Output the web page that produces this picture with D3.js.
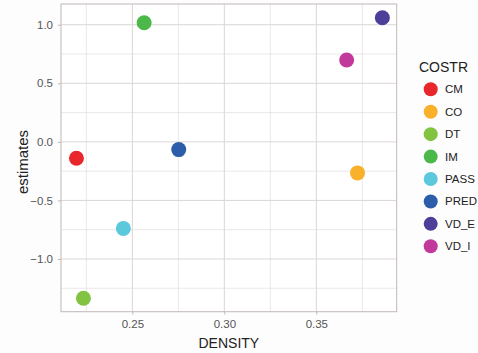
<!DOCTYPE html>
<html><head><meta charset="utf-8">
<script src="https://cdn.jsdelivr.net/npm/d3@7"></script>
<style>body{margin:0;background:#fdfdfd;}svg{display:block;font-family:"Liberation Sans",Arial,sans-serif;}</style>
</head><body><svg id="c" width="478" height="353"></svg>
<script>
const categories = ["CM","CO","DT","IM","PASS","PRED","VD_E","VD_I"];
const density    = [0.2196,0.3724,0.2234,0.2564,0.2451,0.2752,0.3859,0.3665];
const estimates  = [-0.14,-0.265,-1.335,1.017,-0.739,-0.066,1.06,0.699];
const colors     = ["#E8262B","#F9B12C","#82C341","#4CB84A","#5BC8DC","#2B5DAA","#4C3F99","#C1399A"];
const xTicks = [0.25,0.30,0.35];
const yTicks = [-1.0,-0.5,0.0,0.5,1.0];

const svg = d3.select("#c");
const L=61,T=4,R=396.7,B=311.7;
const x = d3.scaleLinear().domain([0.2112,0.3937]).range([L,R]);
const y = d3.scaleLinear().domain([-1.45,1.177]).range([B,T]);
const grid="#dcd6d6";
svg.append("rect").attr("x",L).attr("y",T).attr("width",R-L).attr("height",B-T).attr("fill","#fff");
const g = svg.append("g");
const xMinor=[0.225,0.275,0.325,0.375], yMinor=[-1.25,-0.75,-0.25,0.25,0.75];
g.selectAll(".xm").data(xMinor).join("line").attr("x1",d=>x(d)).attr("x2",d=>x(d)).attr("y1",T).attr("y2",B).attr("stroke",grid).attr("stroke-width",0.6);
g.selectAll(".ym").data(yMinor).join("line").attr("y1",d=>y(d)).attr("y2",d=>y(d)).attr("x1",L).attr("x2",R).attr("stroke",grid).attr("stroke-width",0.6);
g.selectAll(".xM").data(xTicks).join("line").attr("x1",d=>x(d)).attr("x2",d=>x(d)).attr("y1",T).attr("y2",B).attr("stroke",grid).attr("stroke-width",1);
g.selectAll(".yM").data(yTicks).join("line").attr("y1",d=>y(d)).attr("y2",d=>y(d)).attr("x1",L).attr("x2",R).attr("stroke",grid).attr("stroke-width",1);
svg.append("rect").attr("x",L).attr("y",T).attr("width",R-L).attr("height",B-T).attr("fill","none").attr("stroke","#c2b8b8").attr("stroke-width",1);

const xa = svg.append("g").attr("transform",`translate(0,${B})`).call(d3.axisBottom(x).tickValues(xTicks).tickFormat(d3.format(".2f")).tickSize(3).tickPadding(5));
const ya = svg.append("g").attr("transform",`translate(${L},0)`).call(d3.axisLeft(y).tickValues(yTicks).tickFormat(d3.format(".1f")).tickSize(3).tickPadding(5));
[xa,ya].forEach(a=>{a.select(".domain").remove();a.selectAll(".tick line").attr("stroke","#c2b8b8");a.selectAll("text").attr("fill","#555").attr("font-size",11.5).attr("font-family","Liberation Sans, Arial, sans-serif");});

svg.selectAll(".pt").data(categories).join("circle").attr("cx",(d,i)=>x(density[i])).attr("cy",(d,i)=>y(estimates[i])).attr("r",7.5).attr("fill",(d,i)=>colors[i]);

svg.append("text").attr("x",(L+R)/2).attr("y",348).attr("text-anchor","middle").attr("font-size",14).attr("fill","#222").text("DENSITY");
svg.append("text").attr("transform",`translate(28,162) rotate(-90)`).attr("text-anchor","middle").attr("font-size",15).attr("fill","#222").text("estimates");

const lg = svg.append("g");
lg.append("text").attr("x",419).attr("y",72).attr("font-size",14).attr("fill","#222").text("COSTR");
const ly = d3.scalePoint().domain(categories).range([89.3,246.3]);
lg.selectAll("circle").data(categories).join("circle").attr("cx",430.7).attr("cy",d=>ly(d)).attr("r",7).attr("fill",(d,i)=>colors[i]);
lg.selectAll(".lt").data(categories).join("text").attr("x",445).attr("y",d=>ly(d)+4).attr("font-size",11.5).attr("fill","#222").text(d=>d);
</script></body></html>
